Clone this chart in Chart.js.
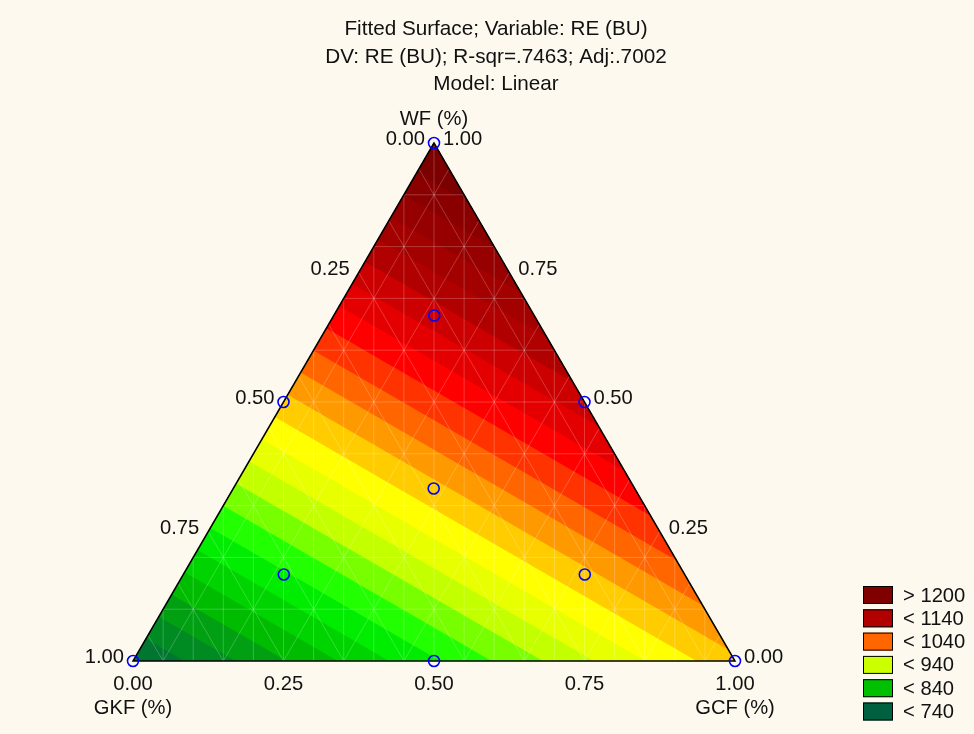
<!DOCTYPE html>
<html>
<head>
<meta charset="utf-8">
<title>Fitted Surface; Variable: RE (BU)</title>
<script src="https://cdn.jsdelivr.net/npm/chart.js@4.4.1/dist/chart.umd.min.js"></script>
<style>
  html, body { margin: 0; padding: 0; background: #fdf9ef; }
  canvas { display: block; }
</style>
</head>
<body>
<canvas id="surfaceChart" width="974" height="734"></canvas>
<script>
const FONT = '"Liberation Sans", Arial, sans-serif';

const titleLines = [
  'Fitted Surface; Variable: RE (BU)',
  'DV: RE (BU); R-sqr=.7463; Adj:.7002',
  'Model: Linear'
];

// mixture components: WF (top), GKF (bottom left), GCF (bottom right)
const componentNames = ['WF (%)', 'GKF (%)', 'GCF (%)'];
// linear model: fitted RE at each pure component
const fittedRE = [1227, 760, 995];

const contourLevels = [740, 760, 780, 800, 820, 840, 860, 880, 900, 920, 940, 960,
                       980, 1000, 1020, 1040, 1060, 1080, 1100, 1120, 1140, 1160, 1180, 1200];
const bandColors = ['#006040', '#006a38', '#007630', '#008a22', '#00a012', '#00bc00',
                    '#00d400', '#00ec00', '#22ff00', '#77ff00', '#c4ff00', '#e8ff00',
                    '#ffff00', '#ffcc00', '#ff9900', '#ff6600', '#ff3300', '#ff0000',
                    '#e40000', '#cc0000', '#b00000', '#a30000', '#960000', '#8a0000', '#7d0000'];

// design points (proportions)
const designWF  = [1.000, 0.000, 0.000, 0.500, 0.500, 0.000, 0.667, 0.167, 0.167, 0.333];
const designGKF = [0.000, 1.000, 0.000, 0.500, 0.000, 0.500, 0.167, 0.667, 0.167, 0.333];
const designGCF = [0.000, 0.000, 1.000, 0.000, 0.500, 0.500, 0.167, 0.167, 0.667, 0.333];

const tickValues = [0, 0.25, 0.5, 0.75, 1];
const tickLabels = ['0.00', '0.25', '0.50', '0.75', '1.00'];

const legendLabels = ['> 1200', '< 1140', '< 1040', '< 940', '< 840', '< 740'];
const legendColors = ['#800000', '#b00000', '#ff6600', '#ccff00', '#00c000', '#006040'];

// where the triangle sits on the canvas
const W = 974, H = 734;
const PAD_LEFT = 18;
const TRI = { left: 133, right: 735, top: 143, bottom: 661 };
const titleFont = { family: FONT, size: 20.7, lineHeight: 1.348 };
const titlePad = { top: 15, bottom: 22 };
const titleHeight = titlePad.top + titleLines.length * titleFont.size * titleFont.lineHeight + titlePad.bottom;

const unitX = TRI.right - TRI.left;
const unitY = TRI.bottom - TRI.top;
const xMin = -(TRI.left - PAD_LEFT) / unitX;
const xMax = (W - TRI.left) / unitX;
const yMin = -(H - TRI.bottom) / unitY;
const yMax = 1 + (TRI.top - titleHeight) / unitY;

// ternary proportions -> chart coordinates (x across, y = WF)
function toXY(wf, gkf, gcf) {
  return { x: gcf + wf / 2, y: wf };
}

const corners = [
  Object.assign(toXY(1, 0, 0), { v: fittedRE[0] }),
  Object.assign(toXY(0, 1, 0), { v: fittedRE[1] }),
  Object.assign(toXY(0, 0, 1), { v: fittedRE[2] })
];

// keep the part of the polygon where the fitted value is >= level
function clipAbove(poly, level) {
  const out = [];
  for (let i = 0; i < poly.length; i++) {
    const p = poly[i], q = poly[(i + 1) % poly.length];
    const pIn = p.v >= level, qIn = q.v >= level;
    if (pIn) out.push(p);
    if (pIn !== qIn) {
      const t = (level - p.v) / (q.v - p.v);
      out.push({ x: p.x + t * (q.x - p.x), y: p.y + t * (q.y - p.y), v: level });
    }
  }
  return out;
}

function tracePoly(ctx, xs, ys, poly) {
  ctx.beginPath();
  poly.forEach((p, i) => {
    const px = xs.getPixelForValue(p.x), py = ys.getPixelForValue(p.y);
    if (i === 0) ctx.moveTo(px, py); else ctx.lineTo(px, py);
  });
  ctx.closePath();
}

// triangulation mesh of the fitted surface
function meshSegments() {
  const segs = [];
  for (let j = 1; j < 10; j++) {
    const t = j / 10;
    segs.push([{ x: t / 2, y: t }, { x: 1 - t / 2, y: t }]);
  }
  for (let i = 1; i < 20; i++) {
    const s = i / 20;
    segs.push([{ x: s, y: 0 }, { x: s, y: s <= 0.5 ? 2 * s : 2 * (1 - s) }]);
  }
  for (let m = 0; m < 10; m++) {
    const g = 0.05 + m / 10;
    segs.push([toXY(0, 1 - g, g), toXY(1 - g, 0, g)]);
    segs.push([toXY(0, g, 1 - g), toXY(1 - g, g, 0)]);
  }
  return segs;
}

const surfacePlugin = {
  id: 'surface',
  beforeDatasetsDraw(chart) {
    const { ctx, scales: { x, y } } = chart;
    ctx.save();
    // contour bands, painted from the lowest level upwards
    ctx.fillStyle = bandColors[0];
    tracePoly(ctx, x, y, corners);
    ctx.fill();
    contourLevels.forEach((level, i) => {
      const poly = clipAbove(corners, level);
      if (poly.length < 3) return;
      ctx.fillStyle = bandColors[i + 1];
      tracePoly(ctx, x, y, poly);
      ctx.fill();
    });

    ctx.strokeStyle = 'rgba(255,255,255,0.22)';
    ctx.lineWidth = 1;
    meshSegments().forEach(([a, b]) => {
      ctx.beginPath();
      ctx.moveTo(x.getPixelForValue(a.x), y.getPixelForValue(a.y));
      ctx.lineTo(x.getPixelForValue(b.x), y.getPixelForValue(b.y));
      ctx.stroke();
    });

    ctx.strokeStyle = '#000';
    ctx.lineWidth = 1.5;
    tracePoly(ctx, x, y, corners);
    ctx.stroke();
    ctx.restore();
  }
};

const labelsPlugin = {
  id: 'ternaryLabels',
  afterDraw(chart) {
    const { ctx, scales: { x, y } } = chart;
    const px = p => ({ x: x.getPixelForValue(p.x), y: y.getPixelForValue(p.y) });
    ctx.save();
    ctx.fillStyle = '#111';
    ctx.font = '20.2px ' + FONT;
    ctx.textBaseline = 'middle';

    // GKF along the left edge
    ctx.textAlign = 'right';
    tickValues.forEach((t, i) => {
      const p = px(toXY(1 - t, t, 0));
      ctx.fillText(tickLabels[i], p.x - 9, p.y - 3.5);
    });
    // WF along the right edge
    ctx.textAlign = 'left';
    tickValues.forEach((t, i) => {
      const p = px(toXY(t, 0, 1 - t));
      ctx.fillText(tickLabels[i], p.x + 9, p.y - 3.5);
    });
    // GCF along the bottom
    ctx.textAlign = 'center';
    tickValues.forEach((t, i) => {
      const p = px(toXY(0, 1 - t, t));
      ctx.fillText(tickLabels[i], p.x, p.y + 23);
    });

    const top = px(toXY(1, 0, 0));
    const bl = px(toXY(0, 1, 0));
    const br = px(toXY(0, 0, 1));
    ctx.fillText(componentNames[0], top.x, top.y - 24);
    ctx.fillText(componentNames[1], bl.x, bl.y + 47);
    ctx.fillText(componentNames[2], br.x, br.y + 47);

    // legend
    ctx.textAlign = 'left';
    legendLabels.forEach((label, i) => {
      const by = 586 + i * 23.3;
      ctx.fillStyle = legendColors[i];
      ctx.fillRect(863, by, 30, 18);
      ctx.strokeStyle = '#000';
      ctx.lineWidth = 1;
      ctx.strokeRect(863.5, by + 0.5, 29, 17);
      ctx.fillStyle = '#111';
      ctx.fillText(label, 903, by + 10);
    });
    ctx.restore();
  }
};

new Chart(document.getElementById('surfaceChart'), {
  type: 'scatter',
  data: {
    datasets: [{
      label: 'Design points',
      data: designWF.map((w, i) => toXY(w, designGKF[i], designGCF[i])),
      pointStyle: 'circle',
      pointRadius: 5.5,
      borderWidth: 1.6,
      borderColor: '#0000ff',
      backgroundColor: 'rgba(0,0,0,0)'
    }]
  },
  options: {
    responsive: false,
    devicePixelRatio: 1,
    animation: false,
    events: [],
    layout: { padding: { left: PAD_LEFT, right: 0, top: 0, bottom: 0 }, autoPadding: false },
    scales: {
      x: { type: 'linear', min: xMin, max: xMax, display: false },
      y: { type: 'linear', min: yMin, max: yMax, display: false }
    },
    plugins: {
      legend: { display: false },
      tooltip: { enabled: false },
      title: {
        display: true,
        text: titleLines,
        color: '#111',
        font: { family: titleFont.family, size: titleFont.size, weight: 'normal', lineHeight: titleFont.lineHeight },
        padding: titlePad
      }
    }
  },
  plugins: [surfacePlugin, labelsPlugin]
});
</script>
</body>
</html>
